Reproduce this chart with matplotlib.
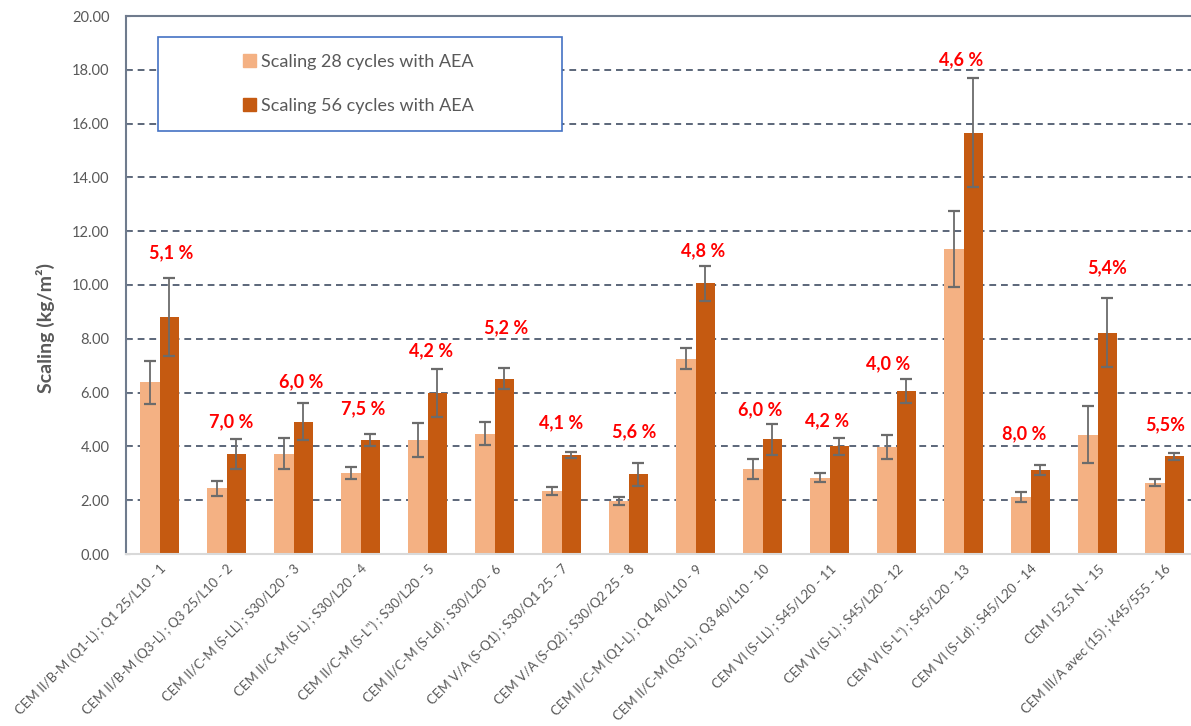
import numpy as np
import matplotlib
matplotlib.use("Agg")
import matplotlib.pyplot as plt
from matplotlib.patches import Rectangle, Patch

plt.rcParams['font.family'] = ['Lato', 'DejaVu Sans']

# Cement mixes, one group of two bars each
mixes = [
    "CEM II/B-M (Q1-L) ; Q1 25/L10 - 1",
    "CEM II/B-M (Q3-L) ; Q3 25/L10 - 2",
    "CEM II/C-M (S-LL) ; S30/L20 - 3",
    "CEM II/C-M (S-L) ; S30/L20 - 4",
    "CEM II/C-M (S-L\") ; S30/L20 - 5",
    "CEM II/C-M (S-Ld) ; S30/L20 - 6",
    "CEM V/A (S-Q1) ; S30/Q1 25 - 7",
    "CEM V/A (S-Q2) ; S30/Q2 25 - 8",
    "CEM II/C-M (Q1-L) ; Q1 40/L10 - 9",
    "CEM II/C-M (Q3-L) ; Q3 40/L10 - 10",
    "CEM VI (S-LL) ; S45/L20 - 11",
    "CEM VI (S-L) ; S45/L20 - 12",
    "CEM VI (S-L\") ; S45/L20 - 13",
    "CEM VI (S-Ld) ; S45/L20 - 14",
    "CEM I 52,5 N - 15",
    "CEM III/A avec (15) ; K45/555 - 16",
]

# scaling after 28 and 56 freeze-thaw cycles (kg/m2) and their spread
scaling_28 = [6.38, 2.44, 3.73, 3.01, 4.24, 4.47, 2.34, 1.97,
              7.25, 3.16, 2.83, 3.97, 11.34, 2.11, 4.44, 2.64]
err_28 = [0.80, 0.29, 0.58, 0.22, 0.62, 0.42, 0.16, 0.14,
          0.39, 0.36, 0.17, 0.45, 1.40, 0.18, 1.07, 0.13]
scaling_56 = [8.82, 3.72, 4.92, 4.25, 6.00, 6.52, 3.68, 2.96,
              10.06, 4.26, 4.00, 6.07, 15.66, 3.12, 8.23, 3.64]
err_56 = [1.45, 0.55, 0.69, 0.22, 0.89, 0.39, 0.12, 0.42,
          0.65, 0.58, 0.31, 0.45, 2.02, 0.19, 1.27, 0.13]

# air content of each mix
air_content = ["5,1 %", "7,0 %", "6,0 %", "7,5 %", "4,2 %", "5,2 %", "4,1 %", "5,6 %",
               "4,8 %", "6,0 %", "4,2 %", "4,0 %", "4,6 %", "8,0 %", "5,4%", "5,5%"]

light = '#F4B183'
dark = '#C55A11'
grid_col = '#5b6679'
text_col = '#595959'

W, H = 1191, 726
fig = plt.figure(figsize=(W / 100, H / 100), dpi=100)
# plot area in pixels: left 126, right ~1198 (runs past the edge), top 16, bottom 554
ax = fig.add_axes([126 / W, 1 - 554 / H, (1198 - 126) / W, (554 - 16) / H])

x = np.arange(len(mixes))
bw = 0.29

ax.bar(x - bw / 2, scaling_28, bw, color=light, zorder=2)
ax.bar(x + bw / 2, scaling_56, bw, color=dark, zorder=2)
ax.errorbar(x - bw / 2, scaling_28, yerr=err_28, fmt='none', ecolor='#6b6b6b',
            elinewidth=1.3, capsize=4.5, capthick=1.6, zorder=3)
ax.errorbar(x + bw / 2, scaling_56, yerr=err_56, fmt='none', ecolor='#6b6b6b',
            elinewidth=1.3, capsize=4.5, capthick=1.6, zorder=3)

ax.set_xlim(-0.5, len(mixes) - 0.5)
ax.set_ylim(0, 20)
yt = np.arange(0, 20.01, 2)
ax.set_yticks(yt)
ax.set_yticklabels([f"{v:.2f}" for v in yt], fontsize=10.5, color=text_col)

# dashed horizontal grid, the 20 line is the solid top border
for v in yt[1:-1]:
    ax.axhline(v, color=grid_col, lw=1.4, ls=(0, (3.5, 2.5)), zorder=1)

for s in ['left', 'top']:
    ax.spines[s].set_color('#6f7b8d')
    ax.spines[s].set_linewidth(1.5)
ax.spines['right'].set_visible(False)
ax.spines['bottom'].set_color('#d9d9d9')
ax.spines['bottom'].set_linewidth(1.5)
ax.tick_params(axis='y', length=3, direction='in', color='#6f7b8d', pad=12)
ax.tick_params(axis='x', length=0, pad=6)

ax.set_xticks(x)
ax.set_xticklabels(mixes, rotation=45, ha='right', rotation_mode='anchor',
                   fontsize=9.5, color=text_col)

ax.set_ylabel("Scaling (kg/m²)", fontsize=14, fontweight='bold', color=text_col)
ax.yaxis.set_label_coords(-71 / (1198 - 126), 0.42)

# air content labels placed above each group
lift = [0.93, 0.66, 0.80, 0.92, 0.66, 1.50, 1.07, 1.17,
        0.55, 0.52, 0.63, 0.57, 0.71, 1.16, 1.13, 1.04]
nudge = [0.18, 0.07, 0.12, 0.04, 0.06, 0.18, 0.0, 0.09,
         0.12, -0.03, -0.04, -0.12, -0.03, -0.09, 0.15, 0.01]
for i, lab in enumerate(air_content):
    top = scaling_56[i] + err_56[i] + lift[i]
    ax.text(x[i] + nudge[i], top, lab, color='#FF0000', fontsize=13,
            fontweight='bold', ha='center', va='center', zorder=4)

# legend box
box = Rectangle((158 / W, 1 - 131 / H), (562 - 158) / W, (131 - 37) / H,
                transform=fig.transFigure, facecolor='white', edgecolor='#4472C4',
                lw=1.2, zorder=4)
ax.add_patch(box)
box.set_clip_on(False)
handles = [Patch(color=light, label='Scaling 28 cycles with AEA'),
           Patch(color=dark, label='Scaling 56 cycles with AEA')]
leg = ax.legend(handles=handles, loc='center left', frameon=False,
                bbox_to_anchor=(227 / W, 1 - 84 / H), bbox_transform=fig.transFigure,
                fontsize=13, handlelength=0.7, handleheight=0.7, handletextpad=0.3,
                labelspacing=1.55, labelcolor=text_col)
leg.set_zorder(5)

fig.savefig('out.png', dpi=100)
